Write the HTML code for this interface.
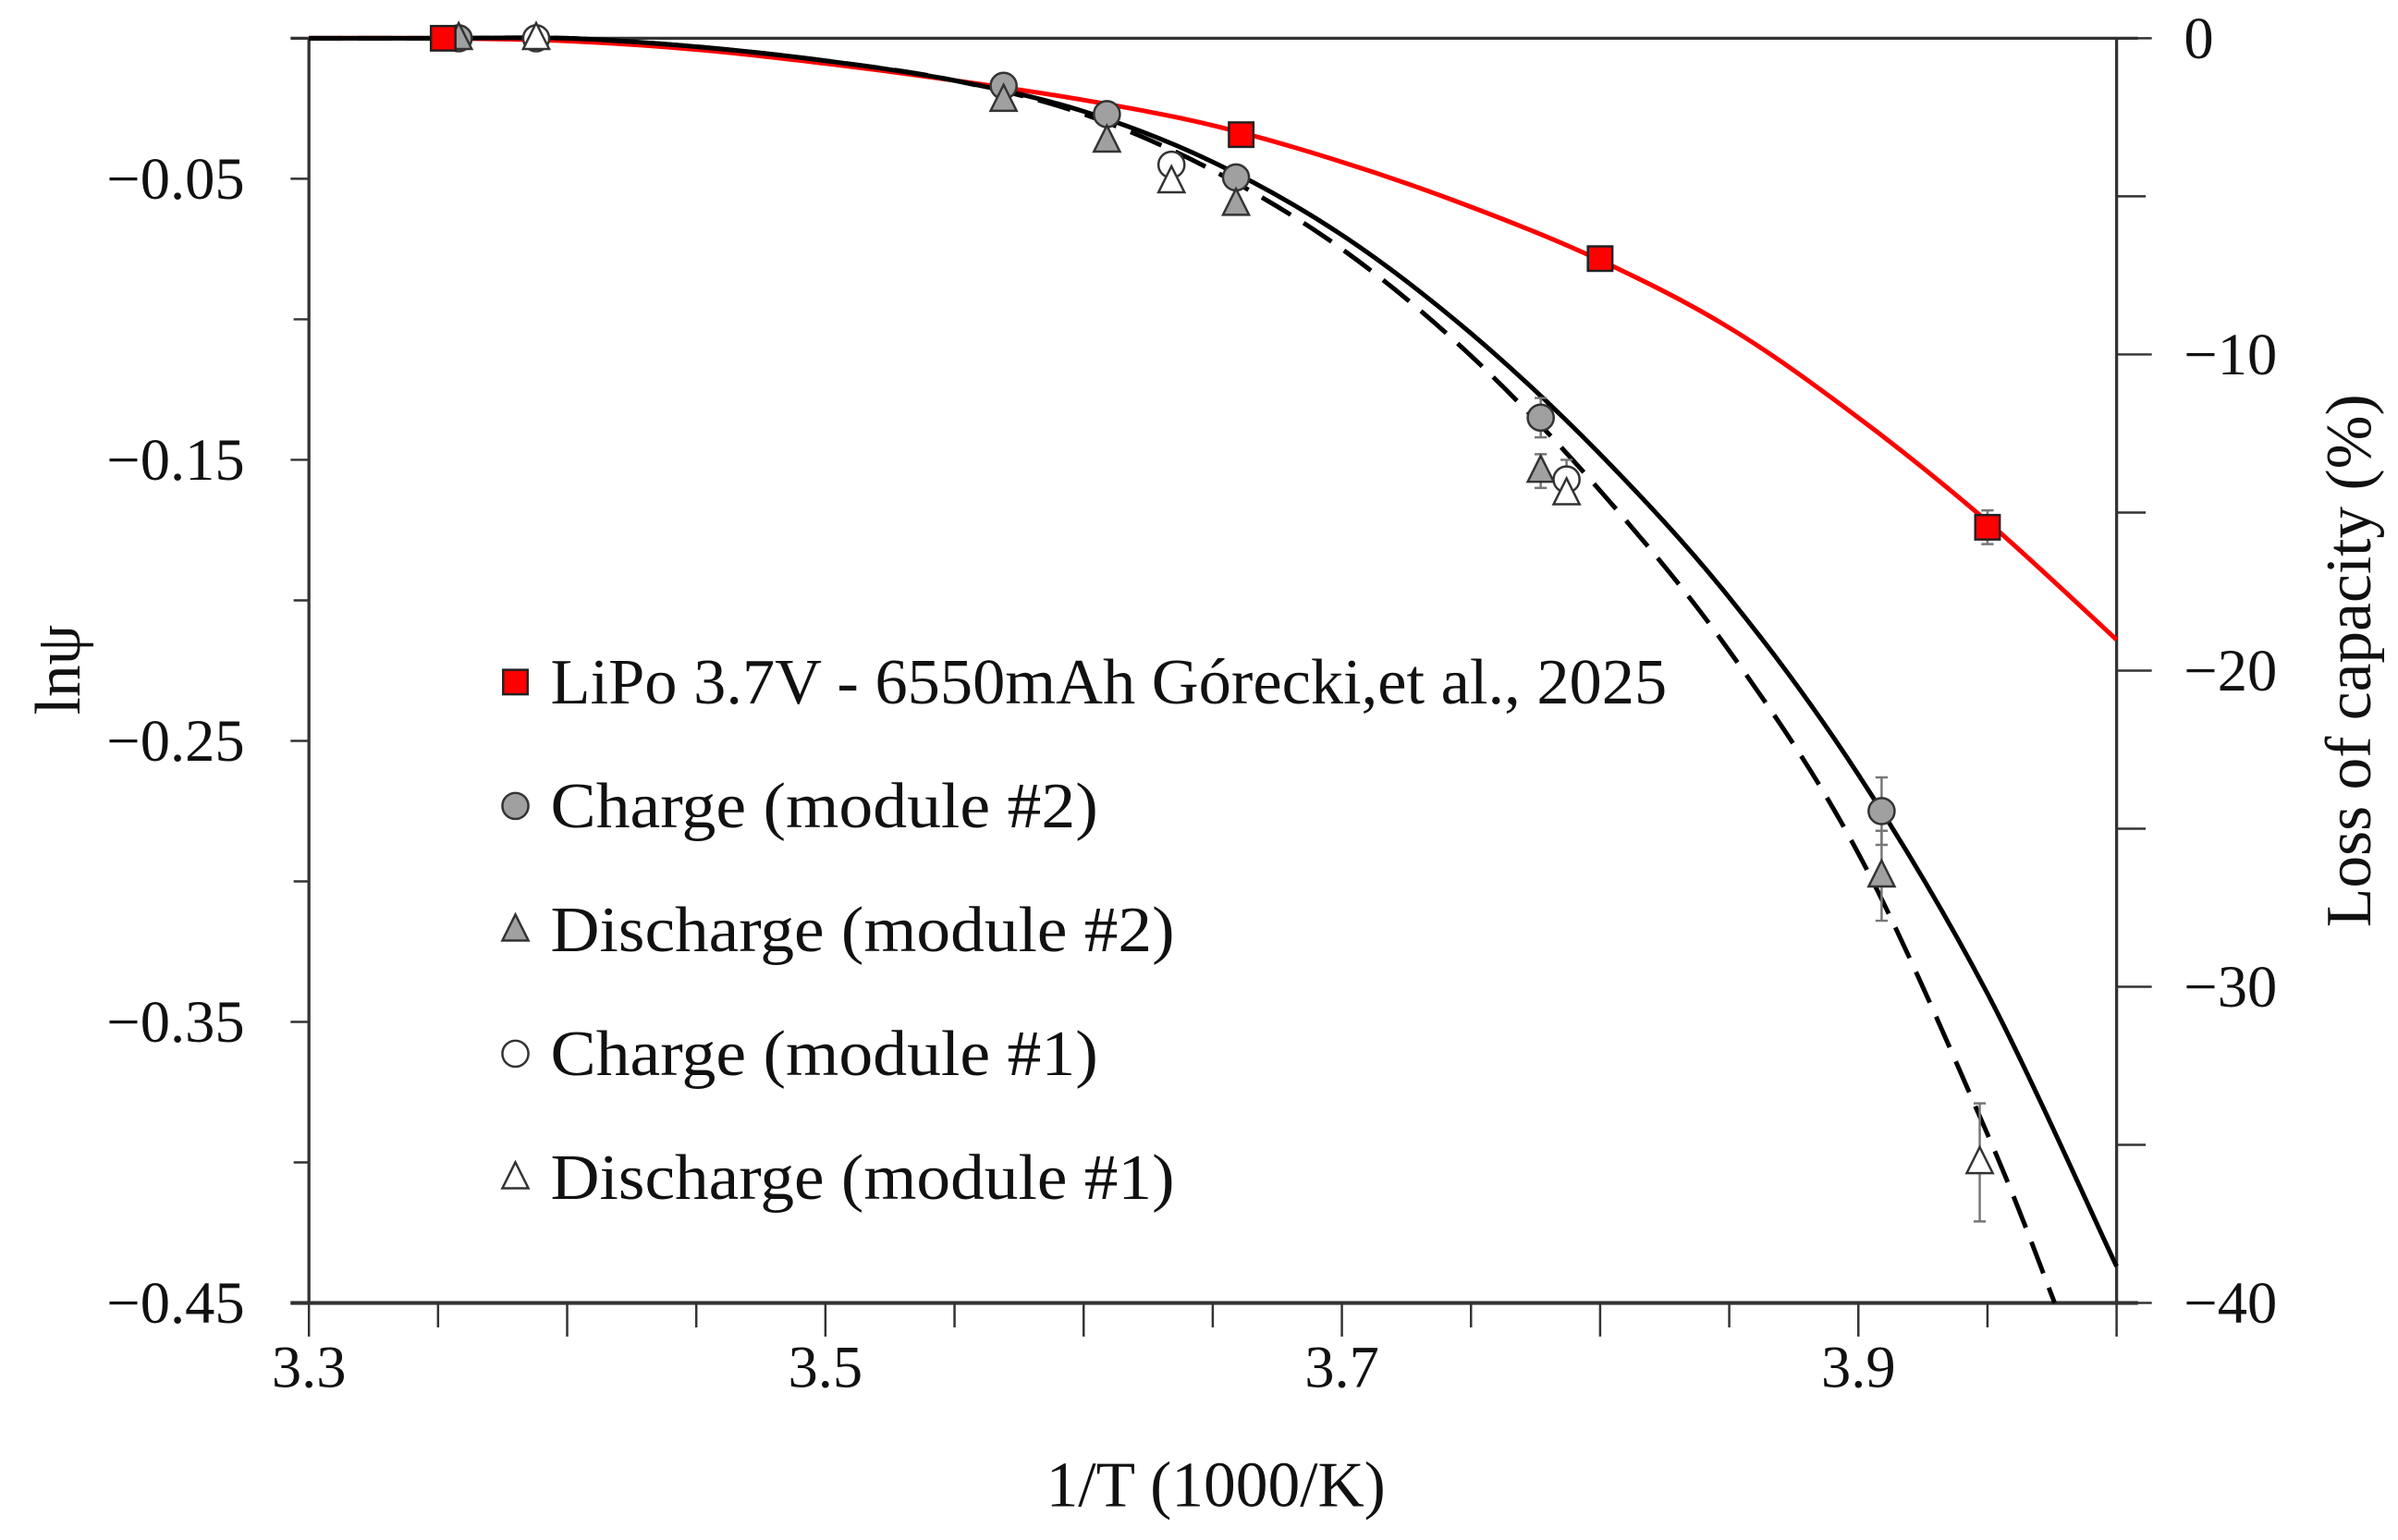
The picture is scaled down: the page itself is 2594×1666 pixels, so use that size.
<!DOCTYPE html>
<html><head><meta charset="utf-8"><style>
html,body{margin:0;padding:0;background:#fff;}
svg{display:block;font-family:"Liberation Serif",serif;}
</style></head><body>
<svg id="chart" width="2594" height="1666" viewBox="0 0 1568 1007" xmlns="http://www.w3.org/2000/svg">
<g id="axes"></g>
<g id="series"></g>
<g id="legend"></g>
</svg>
<script>
// ---- data ----
const curveX = [3.30,3.35,3.40,3.45,3.50,3.55,3.60,3.65,3.70,3.75,3.80,3.85,3.90,3.95,4.00];
const redCurve = [0,0,-0.001,-0.004,-0.009,-0.015,-0.022,-0.031,-0.044,-0.060,-0.079,-0.103,-0.135,-0.172,-0.214];
const solidCurve = [0,0,0,-0.003,-0.008,-0.015,-0.026,-0.044,-0.070,-0.105,-0.148,-0.199,-0.262,-0.340,-0.437];
const dashX = [3.30,3.35,3.40,3.45,3.50,3.55,3.60,3.65,3.70,3.75,3.80,3.85,3.90,3.95,3.976];
const dashCurve = [0,0,0,-0.003,-0.008,-0.015,-0.027,-0.047,-0.075,-0.113,-0.161,-0.218,-0.290,-0.390,-0.450];

const lipoX = [3.352,3.661,3.800,3.950];
const lipoY = [0,-0.0343,-0.0784,-0.174];
const lipoErr = [0,0,0,0.006];
const ch2X = [3.358,3.569,3.609,3.659,3.777,3.909];
const ch2Y = [0,-0.0169,-0.027,-0.0495,-0.135,-0.275];
const ch2Err = [0,0,0,0,0.007,0.012];
const dis2X = [3.358,3.569,3.609,3.659,3.777,3.909];
const dis2Y = [0,-0.022,-0.0365,-0.059,-0.154,-0.298];
const dis2Err = [0,0,0,0,0.006,0.016];
const ch1X = [3.388,3.634,3.787];
const ch1Y = [0,-0.045,-0.157];
const ch1Err = [0,0,0.007];
const dis1X = [3.388,3.634,3.787,3.947];
const dis1Y = [0,-0.051,-0.162,-0.40];
const dis1Err = [0,0,0,0.021];

const xTickLabels = ["3.3","3.5","3.7","3.9"];
const xTickVals = [3.3,3.5,3.7,3.9];
const yTickLabels = ["\u22120.05","\u22120.15","\u22120.25","\u22120.35","\u22120.45"];
const yTickVals = [-0.05,-0.15,-0.25,-0.35,-0.45];
const y2TickLabels = ["0","\u221210","\u221220","\u221230","\u221240"];
const y2TickVals = [0,-10,-20,-30,-40];
const legendLabels = ["LiPo 3.7V - 6550mAh G\u00f3recki,et al., 2025","Charge (module #2)","Discharge (module #2)","Charge (module #1)","Discharge (module #1)"];

// ---- scales ----
const X0=202,X1=1384,Y0=25,Y1=852;
const sx = v => X0 + (v-3.3)/(0.7)*(X1-X0);
const sy = v => Y0 + (0-v)/0.45*(Y1-Y0);
const sy2 = v => Y0 + (0-v)/40*(Y1-Y0);
const NS="http://www.w3.org/2000/svg";
function mk(tag, attrs, parent){const e=document.createElementNS(NS,tag);for(const k in attrs)e.setAttribute(k,attrs[k]);parent.appendChild(e);return e;}
const axes=document.getElementById('axes'), series=document.getElementById('series'), legend=document.getElementById('legend');

let a;
a=mk('line',{x1:X0,y1:Y0,x2:X0,y2:Y1,stroke:'#333','stroke-width':2},axes);


a=mk('line',{x1:X1,y1:Y0,x2:X1,y2:Y1,stroke:'#333','stroke-width':2},axes);


a=mk('line',{x1:190,y1:Y1,x2:1398,y2:Y1,stroke:'#333','stroke-width':2.5},axes);


a=mk('line',{x1:190,y1:Y0,x2:1398,y2:Y0,stroke:'#333','stroke-width':2},axes);



for(let i=0;i<=14;i++){const v=3.3+i*0.05;const major=(i%2===0);
  a=mk('line',{x1:sx(v),y1:Y1,x2:sx(v),y2:Y1+(major?22:16),stroke:'#333','stroke-width':1.5},axes);
  
  }
xTickVals.forEach((v,i)=>{a=mk('text',{x:sx(v),y:907,'font-size':39,'text-anchor':'middle',fill:'#111'},axes);a.textContent=xTickLabels[i];
  
  });
for(let i=0;i<=9;i++){const v=-i*0.05;
  a=mk('line',{x1:X0-(i%2?12:10),y1:sy(v),x2:X0,y2:sy(v),stroke:'#333','stroke-width':1.5},axes);
  
  }
yTickVals.forEach((v,i)=>{a=mk('text',{x:160,y:sy(v)+13,'font-size':39,'text-anchor':'end',fill:'#111'},axes);a.textContent=yTickLabels[i];
  
  });
for(let i=0;i<=8;i++){const v=-i*5;
  a=mk('line',{x1:X1,y1:sy2(v),x2:X1+(i%2?19:23),y2:sy2(v),stroke:'#333','stroke-width':1.5},axes);
  
  }
y2TickVals.forEach((v,i)=>{a=mk('text',{x:1428,y:sy2(v)+13,'font-size':39,'text-anchor':'start',fill:'#111'},axes);a.textContent=y2TickLabels[i];
  
  });
a=mk('text',{x:795,y:985,'font-size':42,'text-anchor':'middle',fill:'#111'},axes);a.textContent="1/T (1000/K)";


a=mk('text',{x:0,y:0,'font-size':42,'text-anchor':'middle',fill:'#111',transform:'translate(52,438) rotate(-90)'},axes);a.textContent="ln\u03c8";


a=mk('text',{x:0,y:0,'font-size':42,'text-anchor':'middle',fill:'#111',transform:'translate(1550,432) rotate(-90)'},axes);a.textContent="Loss of capacity (%)";



function path(xs,ys){
  const p=xs.map((x,i)=>[sx(x),sy(ys[i])]);
  let d='M'+p[0][0].toFixed(1)+','+p[0][1].toFixed(1);
  for(let i=0;i<p.length-1;i++){
    const p0=p[Math.max(0,i-1)],p1=p[i],p2=p[i+1],p3=p[Math.min(p.length-1,i+2)];
    const c1=[p1[0]+(p2[0]-p0[0])/6,p1[1]+(p2[1]-p0[1])/6];
    const c2=[p2[0]-(p3[0]-p1[0])/6,p2[1]-(p3[1]-p1[1])/6];
    d+=` C${c1[0].toFixed(1)},${c1[1].toFixed(1)} ${c2[0].toFixed(1)},${c2[1].toFixed(1)} ${p2[0].toFixed(1)},${p2[1].toFixed(1)}`;
  }
  return d;
}
a=mk('path',{d:path(curveX,redCurve),fill:'none',stroke:'#f00','stroke-width':3},series);


a=mk('path',{d:path(curveX,solidCurve),fill:'none',stroke:'#000','stroke-width':3},series);


a=mk('path',{d:path(dashX,dashCurve),fill:'none',stroke:'#000','stroke-width':3,'stroke-dasharray':'22,10'},series);



function marker(shape,fill,cx,cy,parent,name){
  let m;
  if(shape==='sq') m=mk('rect',{x:cx-8,y:cy-8,width:16,height:16,fill:fill,stroke:'#222','stroke-width':1.5},parent);
  else if(shape==='ci') m=mk('circle',{cx:cx,cy:cy,r:8.5,fill:fill,stroke:'#333','stroke-width':1.5},parent);
  else m=mk('polygon',{points:`${cx},${cy-10} ${cx-8.5},${cy+7} ${cx+8.5},${cy+7}`,fill:fill,stroke:'#333','stroke-width':1.5},parent);
  
  
}
function drawSeries(xs,ys,errs,shape,fill,name){
  xs.forEach((x,i)=>{
    if(errs[i]>0){const X=sx(x);
      let e=mk('path',{d:`M${X},${sy(ys[i]+errs[i])} L${X},${sy(ys[i]-errs[i])} M${X-4},${sy(ys[i]+errs[i])} L${X+4},${sy(ys[i]+errs[i])} M${X-4},${sy(ys[i]-errs[i])} L${X+4},${sy(ys[i]-errs[i])}`,stroke:'#777','stroke-width':1.5,fill:'none'},series);
      
      }
    marker(shape,fill,sx(x),sy(ys[i]),series,name+'-point');
  });
}
drawSeries(ch2X,ch2Y,ch2Err,'ci','#a0a0a0','charge-module2');
drawSeries(dis2X,dis2Y,dis2Err,'tr','#a0a0a0','discharge-module2');
drawSeries(ch1X,ch1Y,ch1Err,'ci','#fff','charge-module1');
drawSeries(dis1X,dis1Y,dis1Err,'tr','#fff','discharge-module1');
drawSeries(lipoX,lipoY,lipoErr,'sq','#f00','lipo');

const legShapes=['sq','ci','tr','ci','tr'], legFills=['#f00','#a0a0a0','#a0a0a0','#fff','#fff'];
const legLens=[730,358,408,358,408];
legendLabels.forEach((t,i)=>{const y=446+i*81;
  marker(legShapes[i],legFills[i],337,y,legend,'legend-marker');
  let tx=mk('text',{x:360,y:y+14,'font-size':42,fill:'#111',textLength:legLens[i],lengthAdjust:'spacingAndGlyphs'},legend);
  tx.textContent=t;
  
  
});
</script>
</body></html>
